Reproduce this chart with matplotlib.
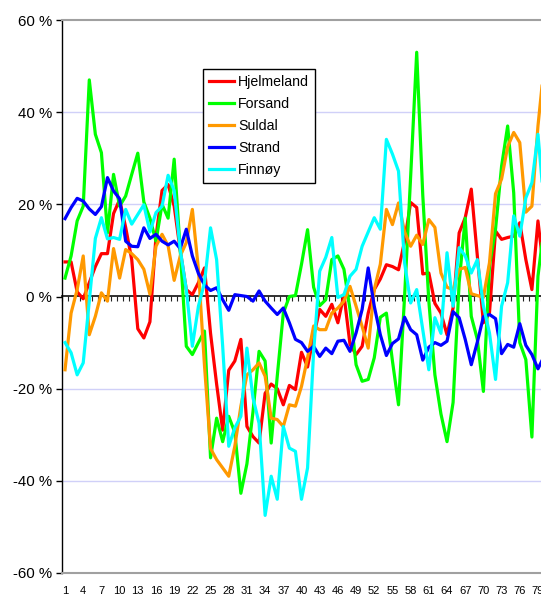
import matplotlib
matplotlib.use('Agg')
import matplotlib.pyplot as plt
import numpy as np

plt.rcParams['font.family'] = ['Liberation Sans', 'DejaVu Sans']

categories = list(range(1, 81))
tick_labels = [str(c) for c in range(1, 80, 3)]

hjelmeland = [7.5, 7.5, 1, -0.5, 3, 6.5, 9.3, 9.3, 18, 21,
              15, 8, -7, -9, -5.5, 13, 23, 24.3, 19.6, 10,
              1.5, 0.4, 3, 6.2, -8, -19, -29, -16, -14, -9.3,
              -28.2, -30.4, -31.8, -21, -19, -20, -23.5, -19.3, -20.2, -12.1,
              -15.3, -8.6, -2.8, -4.3, -1.7, -5.7, 0.4, -10.4, -12.6, -10.8,
              -3.6, 1.5, 3.8, 6.9, 6.5, 5.8, 12, 20.4, 19.3, 4.9,
              5.1, -1.5, -3.6, -8.3, -2.5, 13.8, 17.1, 23.3, 8.8, -5.7,
              -3.6, 14.2, 12.4, 12.8, 13.1, 16, 8, 1.5, 16.4, 5]
forsand = [4, 8.8, 16.4, 19.6, 47, 35.2, 31.2, 13.8, 26.5, 19.6,
           21.8, 26.5, 31.1, 20.5, 17, 12, 20, 17, 29.8, 10,
           -10.8, -12.6, -10, -7.5, -35, -26.4, -31.5, -26, -29.5, -42.7,
           -36.3, -25, -11.9, -14, -31.8, -17.3, -3.6, 0, 0.2, 7,
           14.5, 2, -2, -0.7, 8, 8.8, 5.9, -2.8, -14.8, -18.4,
           -18, -13.3, -4.5, -3.6, -14, -23.5, 0, 26, 53, 22,
           -1, -17, -25.5, -31.5, -23, 3, 17, -4.3, -9.3, -20.6,
           6.6, 14.6, 28.3, 37, 22.5, -10, -13.7, -30.5, 4.4, 15]
suldal = [-15.9, -3.6, 1.5, 8.8, -8.3, -4.3, 0.8, -1, 10.4, 4,
          10.2, 9.3, 8, 5.9, 0.5, 10.9, 13.5, 11, 3.5, 8.8,
          11.7, 18.9, 5.9, -15, -33, -35.4, -37.2, -39, -32.5, -23.8,
          -17, -15.9, -14.4, -17.3, -26.4, -26.7, -28.2, -23.5, -23.8, -19.5,
          -13.3, -6.4, -7.2, -7.2, -3.6, -2.5, -1, 2.2, -2.1, -6.5,
          -11.2, 1.5, 7, 18.9, 15.6, 20.3, 14, 10.9, 13.3, 11.3,
          16.7, 15, 5.1, 2, 1.5, 5.9, 6.3, 0.6, 0.2, -0.2,
          7.3, 22.3, 25.5, 32.5, 35.6, 33.4, 18.3, 19.6, 37, 50]
strand = [16.9, 19.3, 21.3, 20.7, 19, 17.8, 19.5, 25.8, 22.9, 21.2,
          12, 10.9, 10.8, 14.9, 12.6, 13.5, 12, 11.2, 12, 10.4,
          14.6, 8.8, 5, 2.5, 1.3, 1.9, -0.7, -3, 0.4, 0.2,
          0, -1, 1.2, -1, -2.5, -3.9, -2.5, -5.7, -9.3, -10,
          -11.9, -10.8, -13, -11.2, -12.4, -9.7, -9.5, -11.9, -7.9, -2.8,
          6.2, -2.1, -8.3, -12.8, -10.2, -9.2, -4.5, -7.2, -8.3, -13.8,
          -11, -10, -10.6, -9.7, -3.3, -4.6, -9.3, -14.8, -9.9, -4.4,
          -3.9, -4.8, -12.4, -10.4, -11, -5.9, -10.6, -12.6, -15.7, -13]
finnoy = [-10, -12.2, -17, -14.4, -1, 12.6, 17.1, 12.5, 12.8, 12.4,
          18.9, 15.7, 17.8, 19.9, 14, 18.2, 19.6, 26.3, 23, 10.2,
          1.5, -10.8, -2.1, 3, 14.9, 8, -10.8, -32.5, -28.5, -26,
          -11.2, -22, -27.5, -47.5, -39, -44, -28.2, -32.9, -33.6, -44,
          -37.2, -12, 5.5, 8.5, 12.8, -0.2, 0.4, 4.4, 5.9, 10.9,
          14, 17.1, 14.6, 34.1, 30.9, 27.2, 7.3, -1.4, 1.5, -7.2,
          -15.9, -4.6, -8, 9.5, -2.1, 10.6, 8.8, 5.1, 8, -2.1,
          -7.9, -18, -2.1, 3, 17.5, 13.1, 21.4, 24.7, 35.2, 20]

series_names = ['Hjelmeland', 'Forsand', 'Suldal', 'Strand', 'Finnøy']
series_values = [hjelmeland, forsand, suldal, strand, finnoy]
series_colors = ['#ff0000', '#00ff00', '#ff9900', '#0000ff', '#00ffff']

y_ticks = [-60, -40, -20, 0, 20, 40, 60]
grid_values = [-40, -20, 20, 40]

W, H = 541, 596
fig = plt.figure(figsize=(W / 100, H / 100), dpi=100)
left, right, top, bottom = 62, 541, 20, 573
ax = fig.add_axes([left / W, 1 - bottom / H, (right - left) / W, (bottom - top) / H])
ax.set_xlim(0.5, 79.5)
ax.set_ylim(-60, 60)

for g in grid_values:
    ax.axhline(g, color='#d0d0f8', lw=1.0, zorder=0)

for name, vals, col in zip(series_names, series_values, series_colors):
    ax.plot(categories, vals, color=col, lw=2.3, label=name, zorder=3)

# spines
ax.spines['right'].set_visible(False)
ax.spines['top'].set_color('#a0a0a0')
ax.spines['top'].set_linewidth(1.5)
ax.spines['bottom'].set_color('#a0a0a0')
ax.spines['bottom'].set_linewidth(1.5)
ax.spines['left'].set_color('black')
ax.spines['left'].set_linewidth(1.0)

ax.set_yticks(y_ticks)
ax.set_yticklabels([f"{v} %" for v in y_ticks])
ax.tick_params(axis='y', direction='out', length=4, width=1, color='black',
               labelsize=10.8, pad=3)

ax.set_xticks(list(range(1, 80, 3)))
ax.set_xticklabels(tick_labels)
ax.tick_params(axis='x', length=0, labelsize=8, pad=9)

# category axis crossing at 0
sec = ax.secondary_xaxis(0.5)
sec.set_xticks(np.arange(0.5, 80.0, 1.0))
sec.set_xticklabels([])
sec.tick_params(axis='x', direction='in', length=3.5, width=0.8, color='#222222')
for s in sec.spines.values():
    s.set_color('#222222')
    s.set_linewidth(1.3)

leg = ax.legend(loc='upper left', bbox_to_anchor=((203 - left) / (right - left), (bottom - 69) / (bottom - top)),
                frameon=True, fancybox=False, edgecolor='black', framealpha=1,
                fontsize=10.2, handlelength=1.75, handletextpad=0.3,
                labelspacing=0.56, borderpad=0.42, borderaxespad=0)
leg.get_frame().set_linewidth(1.0)
leg.set_zorder(5)

fig.savefig('out.png', dpi=100)
